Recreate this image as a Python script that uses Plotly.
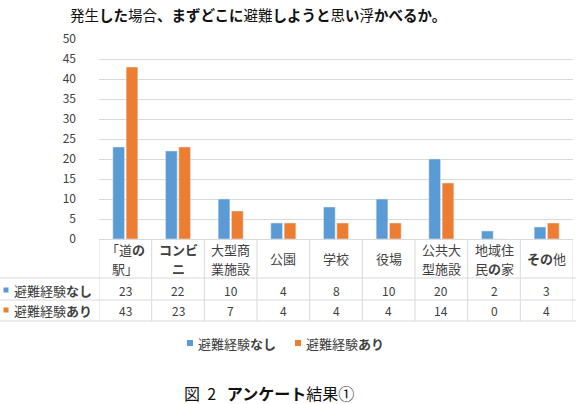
import plotly.graph_objects as go

# ---- data ----
categories = ["「道の駅」", "コンビニ", "大型商業施設", "公園", "学校", "役場", "公共大型施設", "地域住民の家", "その他"]
header_lines = [["「道<b>の</b>", "駅」"], ["<b>コンビ</b>", "<b>ニ</b>"], ["大型商", "業施設"], ["公園"], ["学校"], ["役場"],
                ["公共大", "型施設"], ["地域住", "民<b>の</b>家"], ["<b>その</b>他"]]
no_exp = [23, 22, 10, 4, 8, 10, 20, 2, 3]
with_exp = [43, 23, 7, 4, 4, 4, 14, 0, 4]
series_names = ["避難経験なし", "避難経験あり"]
series_labels = ["避難経験<b>なし</b>", "避難経験<b>あり</b>"]
series_values = [no_exp, with_exp]
colors = ["#5B9BD5", "#ED7D31"]
y_ticks = list(range(0, 51, 5))
title_text = "発生<b>した</b>場合<b>、まずどこに</b>避難<b>しようと</b>思<b>い</b>浮<b>かべるか。</b>"
caption_text = "図  2   <b>アンケート</b>結果①"

# ---- layout helpers ----
W, H = 576, 404
L, R, T, B = 99, 3, 39, 165
FONT = "Noto Sans CJK JP"
GRID = "#D9D9D9"
TXT = "#404040"


def px(x):
    return (x - L) / (W - L - R)


def py(y):
    return (H - B - y) / (H - T - B)


fig = go.Figure()
for name, vals, col in zip(series_names, series_values, colors):
    fig.add_trace(go.Bar(x=categories, y=vals, name=name, marker=dict(color=col), showlegend=False))

shapes = []
annotations = []

# table horizontal lines
for yy in [278, 300, 321]:
    shapes.append(dict(type="line", xref="paper", yref="paper", x0=px(0), x1=px(W), y0=py(yy), y1=py(yy),
                       line=dict(color=GRID, width=1)))
# table vertical lines
for i in range(len(categories) + 1):
    shapes.append(dict(type="line", xref="x", yref="paper", x0=i - 0.5, x1=i - 0.5, y0=py(239), y1=py(321),
                       line=dict(color=GRID, width=1)))

# header labels (one annotation per line)
for cat, lines in zip(categories, header_lines):
    ys = [258] if len(lines) == 1 else [249, 268]
    for ln, yy in zip(lines, ys):
        annotations.append(dict(x=cat, y=py(yy), xref="x", yref="paper", text=ln, showarrow=False,
                                font=dict(family=FONT, size=13, color=TXT), yanchor="middle", xanchor="center"))

# row values and row labels
row_y = [290, 310]
for r, (lab, vals, col) in enumerate(zip(series_labels, series_values, colors)):
    for cat, v in zip(categories, vals):
        annotations.append(dict(x=cat, y=py(row_y[r]), xref="x", yref="paper", text=str(v), showarrow=False,
                                font=dict(family=FONT, size=12, color=TXT), yanchor="middle", xanchor="center"))
    shapes.append(dict(type="rect", xref="paper", yref="paper", x0=px(3.5), x1=px(8.5),
                       y0=py(row_y[r] - 2.5), y1=py(row_y[r] + 2.5), fillcolor=col, line=dict(width=0)))
    annotations.append(dict(x=px(12), y=py(row_y[r]), xref="paper", yref="paper", text=lab, showarrow=False,
                            font=dict(family=FONT, size=13, color=TXT), yanchor="middle", xanchor="left"))

# bottom legend
leg_x = [187, 295]
for lx, lab, col in zip(leg_x, series_labels, colors):
    shapes.append(dict(type="rect", xref="paper", yref="paper", x0=px(lx), x1=px(lx + 6),
                       y0=py(343 - 3), y1=py(343 + 3), fillcolor=col, line=dict(width=0)))
    annotations.append(dict(x=px(lx + 9), y=py(343), xref="paper", yref="paper", text=lab, showarrow=False,
                            font=dict(family=FONT, size=13, color=TXT), yanchor="middle", xanchor="left"))

# title and caption
annotations.append(dict(x=px(68), y=py(14), xref="paper", yref="paper", text=title_text, showarrow=False,
                        font=dict(family=FONT, size=14.5, color="#111111"), yanchor="middle", xanchor="left"))
annotations.append(dict(x=px(182), y=py(393), xref="paper", yref="paper", text=caption_text, showarrow=False,
                        font=dict(family=FONT, size=16, color="#111111"), yanchor="middle", xanchor="left"))

fig.update_layout(
    width=W, height=H,
    margin=dict(l=L, r=R, t=T, b=B, pad=0),
    paper_bgcolor="white", plot_bgcolor="white",
    barmode="group", bargap=0.495, bargroupgap=0.12,
    font=dict(family=FONT, size=12, color=TXT),
    xaxis=dict(range=[-0.5, len(categories) - 0.5], showticklabels=False, showgrid=False,
               showline=True, linecolor=GRID, linewidth=1, ticks="", fixedrange=True),
    yaxis=dict(range=[0, 50], tickvals=y_ticks, showgrid=True, gridcolor=GRID, gridwidth=1,
               zeroline=False, showline=False, ticks="", ticklabelstandoff=22,
               tickfont=dict(family=FONT, size=12, color=TXT), fixedrange=True),
    shapes=shapes, annotations=annotations,
)

fig.write_html("out.html")
